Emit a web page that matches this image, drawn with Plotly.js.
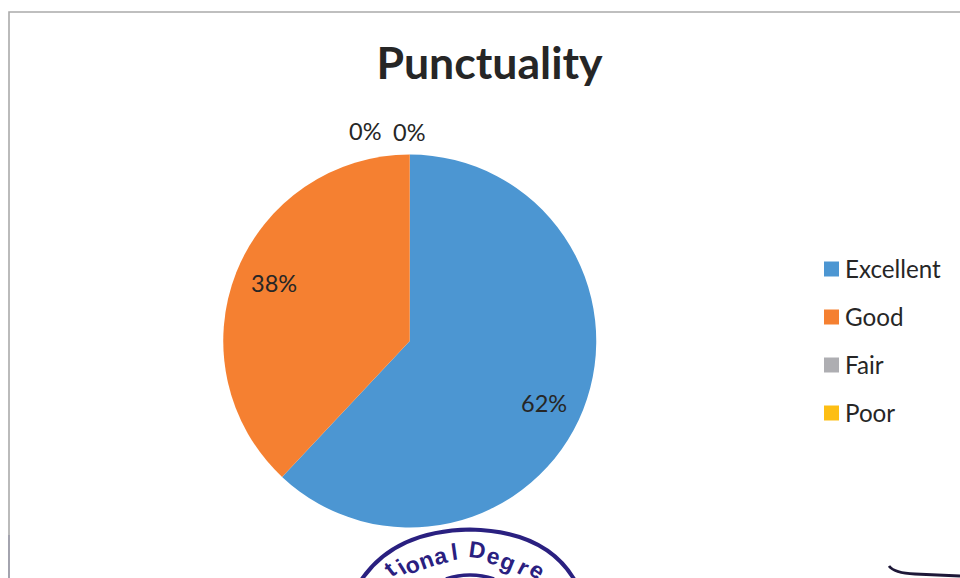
<!DOCTYPE html>
<html><head><meta charset="utf-8">
<script src="https://cdn.plot.ly/plotly-3.0.1.min.js"></script>
<style>html,body{margin:0;padding:0;background:#fff}</style></head>
<body><div id="chart" style="width:960px;height:578px"></div>
<script>
var categories = ['Excellent','Good','Fair','Poor'];
var shares = [62,38,0,0];
var colours = ['#4C96D2','#F58031','#AEAEB2','#FDBE14'];
var titleText = 'Punctuality';
var W=960,H=578;
function px(x){return x/W;} function py(y){return 1-y/H;}
var ink='#262626', stampInk='#2A2080';
var labelSpots=[[544,402.5],[274,282.5],[409,132],[365,131]];
var annotations=[];
function note(x,y,text,font,extra){
 var a={x:px(x),y:py(y),xref:'paper',yref:'paper',xanchor:'center',yanchor:'middle',text:text,showarrow:false,font:font};
 for(var k in (extra||{})) a[k]=extra[k];
 annotations.push(a);
}
shares.forEach(function(v,i){ note(labelSpots[i][0],labelSpots[i][1],v+'%',{family:'Lato',size:23.5,color:ink}); });
var shapes=[
 {type:'path',xref:'paper',yref:'paper',path:'M '+px(9)+' '+py(535)+' L '+px(9)+' '+py(12)+' L 1 '+py(12),line:{color:'#ABABAB',width:1.6}},
 {type:'path',xref:'paper',yref:'paper',path:'M '+px(9)+' 0 L '+px(9)+' '+py(535),line:{color:'#9A9AA6',width:1.8}},
 {type:'path',xref:'paper',yref:'paper',path:'M '+px(362)+' '+py(579)+' Q '+px(395)+' '+py(531)+' '+px(470)+' '+py(529.5)+' Q '+px(545)+' '+py(531)+' '+px(574)+' '+py(579),line:{color:stampInk,width:4}},
 {type:'path',xref:'paper',yref:'paper',path:'M '+px(446)+' '+py(579)+' Q '+px(470)+' '+py(571)+' '+px(494)+' '+py(579),line:{color:stampInk,width:3.5}},
 {type:'path',xref:'paper',yref:'paper',path:'M '+px(889)+' '+py(566)+' Q '+px(894)+' '+py(573)+' '+px(915)+' '+py(574)+' L '+px(960)+' '+py(576),line:{color:'#1E1838',width:2.8}}
];
var legendY=[268,316,364,412];
var swatchY=[269,317,365,413];
categories.forEach(function(c,i){
 shapes.push({type:'rect',xref:'paper',yref:'paper',x0:px(824),x1:px(839),y0:py(swatchY[i]-7.5),y1:py(swatchY[i]+7.5),fillcolor:colours[i],line:{width:0}});
 note(843,legendY[i],c,{family:'Lato',size:24.2,color:ink},{xanchor:'left'});
});
var stampLetters=['t','i','o','n','a','l','D','e','g','r','e'];
var stampX=[390,401,412,426,440,454,477,493,508,523,537];
var stampY=[569,567,565,560,556,552,550,556,562,567,570];
var stampTilt=[-38,-32,-25,-20,-14,-8,8,15,22,28,35];
stampLetters.forEach(function(l,i){
 note(stampX[i],stampY[i],'<b>'+l+'</b>',{family:'Liberation Sans',size:23,color:stampInk},{textangle:stampTilt[i]});
});
var data=[{type:'pie',labels:categories,values:shares,sort:false,direction:'clockwise',rotation:0,
 marker:{colors:colours,line:{width:0}},textinfo:'none',
 domain:{x:[px(223),px(596.5)],y:[py(527.5),py(154.5)]},showlegend:false,hoverinfo:'label+percent'}];
var layout={width:W,height:H,margin:{l:0,r:0,t:0,b:0},paper_bgcolor:'#fff',
 title:{text:'<b>'+titleText+'</b>',font:{family:'Lato',size:44.6,color:ink},x:px(489.5),xanchor:'center',y:py(63),yanchor:'middle'},
 annotations:annotations,shapes:shapes,showlegend:false};
Plotly.newPlot('chart',data,layout,{displayModeBar:false,staticPlot:true});
</script></body></html>
